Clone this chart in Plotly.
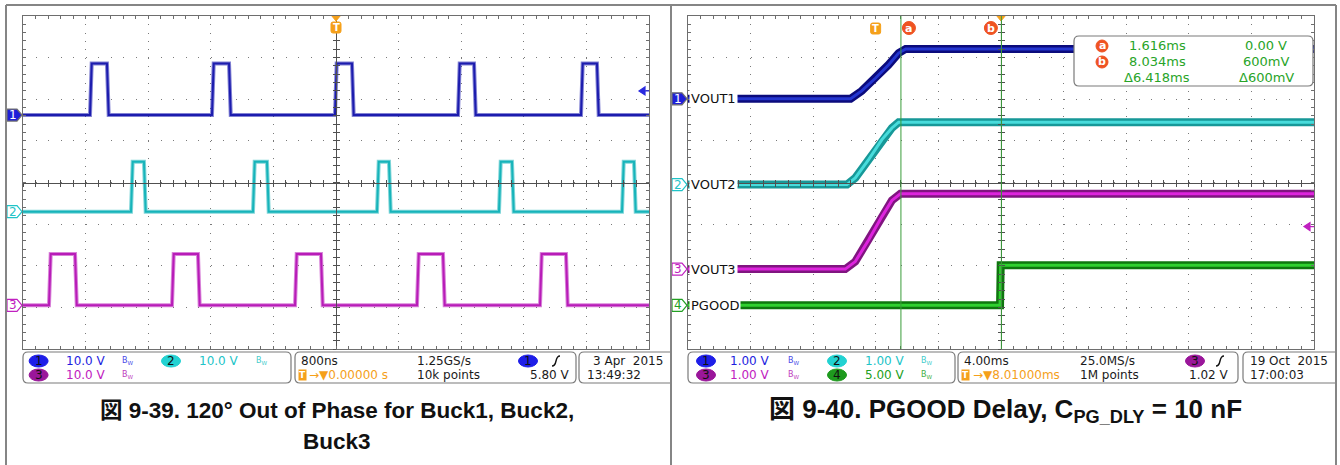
import plotly.graph_objects as go

# =====================================================
# Figure 9-39 : switch nodes of the three bucks (800 ns/div, 10 V/div)
# =====================================================

CH1_RISE_NS = [-3144, -1585, -13, 1559, 3131]
CH1_FALL_NS = [-2927, -1367, 204, 1764, 3335]
CH2_RISE_NS = [-2620, -1061, 524, 2083, 3655]
CH2_FALL_NS = [-2454, -882, 677, 2249, 3808]
CH3_RISE_NS = [-3668, -2096, -524, 1035, 2607]
CH3_FALL_NS = [-3335, -1764, -192, 1367, 2939]
PULSE_HIGH_V = [12.4, 12.0, 12.3]
TRIG1_LEVEL_V = 5.80

# =====================================================
# Figure 9-40 : start-up and PGOOD delay (4 ms/div)
# =====================================================

VOUT1_T_MS = [-1.60, -0.89, 0.00, 0.83, 1.47, 1.92]
VOUT1_V = [0.00, 0.19, 0.50, 0.82, 1.10, 1.20]
VOUT2_T_MS = [-1.83, -1.30, -0.45, 0.40, 1.04, 1.47]
VOUT2_V = [0.00, 0.16, 0.60, 1.08, 1.36, 1.50]
VOUT3_T_MS = [-1.94, -1.30, -0.45, 0.40, 1.04, 1.58]
VOUT3_V = [0.00, 0.18, 0.70, 1.26, 1.65, 1.81]
PGOOD_T_MS = [7.95, 7.99]
PGOOD_V = [0.00, 4.80]
CURSOR_MS = [1.616, 8.034]
CURSOR_MV = [0, 600]
TRIG2_LEVEL_V = 1.02
TRIG2_DELAY_MS = 8.01

# =====================================================
# Screen setup
# =====================================================

W, H = 1340, 465
SCOPE_FONT = "DejaVu Sans"
CAPTION_FONT = "Liberation Sans, Noto Sans CJK JP"

L1, R1 = 23, 649
L2, R2 = 688, 1314
TOP, BOT = 16, 349

P1_RANGE = [-4000, 4000]
P1_DIV = 800
P2_RANGE = [TRIG2_DELAY_MS - 20, TRIG2_DELAY_MS + 20]
P2_DIV = 4

P1_POS = [1.62, -0.70, -2.95]
P1_VDIV = 10.0
P2_POS = [2.01, -0.05, -2.08, -2.95]
P2_VDIV = [1.0, 1.0, 1.0, 5.0]

GRID = "#7a7a7a"
EDGE = "#6e6e6e"
CROSS = "#505050"
ORANGE = "#f5a01a"
CURSOR_RED = "#ef5322"
CURSOR_GREEN = "#3a9c3a"

BLUE = "#1c1cae"
CYAN = "#17b4ba"
MAGENTA = "#b81cb8"


def px(x):
    return x / W


def py(y):
    return 1 - y / H


def div_to_py(pos):
    # vertical screen division -> paper y
    return py(TOP + (4 - pos) * (BOT - TOP) / 8)


def P(x, y):
    return f"{px(x):.5f},{py(y):.5f}"


fig = go.Figure()


# =====================================================
# Axes
# =====================================================

def base_x(dom, rng, div, anchor):
    return dict(
        domain=[px(dom[0]), px(dom[1])], range=rng, tick0=rng[0], dtick=div,
        anchor=anchor, showgrid=True, gridcolor=GRID, gridwidth=1,
        griddash="1px,7.33px", ticks="inside", ticklen=3, tickcolor=EDGE,
        minor=dict(tick0=rng[0], dtick=div / 5, ticks="inside", ticklen=3,
                   tickcolor=EDGE, showgrid=False),
        showline=True, linecolor=EDGE, linewidth=1, mirror="allticks",
        showticklabels=False, zeroline=False, fixedrange=True
    )


def base_y(anchor):
    return dict(
        domain=[py(BOT), py(TOP)], range=[-4, 4], tick0=-4, dtick=1,
        anchor=anchor, showgrid=True, gridcolor=GRID, gridwidth=1,
        griddash="1px,11.52px", ticks="inside", ticklen=3, tickcolor=EDGE,
        minor=dict(tick0=-4, dtick=0.2, ticks="inside", ticklen=3,
                   tickcolor=EDGE, showgrid=False),
        showline=True, linecolor=EDGE, linewidth=1, mirror="allticks",
        showticklabels=False, zeroline=False, fixedrange=True
    )


def cross_axis(over, rng, step, pos, ticks):
    return dict(
        overlaying=over, anchor="free", position=pos, range=rng,
        tick0=rng[0], dtick=step, ticks=ticks, ticklen=3, tickcolor=CROSS,
        showline=True, linecolor=CROSS, linewidth=1, showgrid=False,
        zeroline=False, showticklabels=False, fixedrange=True
    )


y_mid = (py(TOP) + py(BOT)) / 2
x_mid1 = (px(L1) + px(R1)) / 2
x_mid2 = (px(L2) + px(R2)) / 2

fig.update_layout(
    xaxis=base_x((L1, R1), P1_RANGE, P1_DIV, "y"),
    yaxis=base_y("x"),
    xaxis2=base_x((L2, R2), P2_RANGE, P2_DIV, "y2"),
    yaxis2=base_y("x2"),
    xaxis3=cross_axis("x", P1_RANGE, P1_DIV / 5, y_mid, "inside"),
    xaxis4=cross_axis("x", P1_RANGE, P1_DIV / 5, y_mid, "outside"),
    yaxis3=cross_axis("y", [-4, 4], 0.2, x_mid1, "inside"),
    yaxis4=cross_axis("y", [-4, 4], 0.2, x_mid1, "outside"),
    xaxis5=cross_axis("x2", P2_RANGE, P2_DIV / 5, y_mid, "inside"),
    xaxis6=cross_axis("x2", P2_RANGE, P2_DIV / 5, y_mid, "outside"),
    yaxis5=cross_axis("y2", [-4, 4], 0.2, x_mid2, "inside"),
    yaxis6=cross_axis("y2", [-4, 4], 0.2, x_mid2, "outside"),
)

# the crosshair axes are only drawn when a trace uses them
for xa, ya in [("x3", "y"), ("x4", "y"), ("x", "y3"), ("x", "y4"),
               ("x5", "y2"), ("x6", "y2"), ("x2", "y5"), ("x2", "y6")]:
    fig.add_trace(go.Scatter(x=[], y=[], xaxis=xa, yaxis=ya,
                             hoverinfo="skip", showlegend=False))


# =====================================================
# Waveforms
# =====================================================

def add_wave(t, y, color, glow, width, glow_width, xa, ya):
    fig.add_trace(go.Scatter(x=t, y=y, mode="lines", xaxis=xa, yaxis=ya,
                             line=dict(color=glow, width=glow_width),
                             hoverinfo="skip", showlegend=False))
    fig.add_trace(go.Scatter(x=t, y=y, mode="lines", xaxis=xa, yaxis=ya,
                             line=dict(color=color, width=width),
                             hoverinfo="skip", showlegend=False))


def pulse_train(rises, falls, high, pos):
    edge = 22
    t, v = [P1_RANGE[0]], [0.0]
    for r, f in zip(rises, falls):
        t += [r, r + edge, f, f + edge]
        v += [0.0, high, high, 0.0]
    t.append(P1_RANGE[1])
    v.append(0.0)
    return t, [pos + val / P1_VDIV for val in v]


p1_sets = [
    (CH1_RISE_NS, CH1_FALL_NS, BLUE, "rgba(28,28,174,0.55)"),
    (CH2_RISE_NS, CH2_FALL_NS, CYAN, "rgba(23,180,186,0.55)"),
    (CH3_RISE_NS, CH3_FALL_NS, MAGENTA, "rgba(184,28,184,0.55)"),
]
for i, (rises, falls, col, glow) in enumerate(p1_sets):
    t, y = pulse_train(rises, falls, PULSE_HIGH_V[i], P1_POS[i])
    add_wave(t, y, col, glow, 2.0, 4, "x", "y")


def ramp(ts, vs, pos, vdiv):
    t = [P2_RANGE[0]] + ts + [P2_RANGE[1]]
    v = [vs[0]] + vs + [vs[-1]]
    return t, [pos + val / vdiv for val in v]


p2_sets = [
    (PGOOD_T_MS, PGOOD_V, "#2fd02f", "#0e760e"),
    (VOUT3_T_MS, VOUT3_V, "#de24de", "#801580"),
    (VOUT2_T_MS, VOUT2_V, "#48dcdc", "#179898"),
    (VOUT1_T_MS, VOUT1_V, "#2436d0", "#0b0b7c"),
]
for k, (ts, vs, inner, outer) in enumerate(p2_sets):
    ch = 3 - k
    t, y = ramp(ts, vs, P2_POS[ch], P2_VDIV[ch])
    add_wave(t, y, inner, outer, 3, 8, "x2", "y2")


# =====================================================
# Screen markers
# =====================================================

def flag(xpx, pos, num, color, filled):
    yy = div_to_py(pos)
    fig.add_shape(type="path", xref="paper", xsizemode="pixel", xanchor=px(xpx),
                  yref="paper", ysizemode="pixel", yanchor=yy,
                  path="M0,6 L10,6 L15,0 L10,-6 L0,-6 Z",
                  fillcolor=color if filled else "white",
                  line=dict(color="#707070" if filled else color, width=1.2))
    fig.add_annotation(xref="paper", x=px(xpx + 6), yref="paper", y=yy,
                       text=num, showarrow=False, xanchor="center",
                       yanchor="middle",
                       font=dict(family=SCOPE_FONT, size=12,
                                 color="white" if filled else color))


flag(7, P1_POS[0], "1", "#1f1fd8", True)
flag(7, P1_POS[1], "2", "#1fc4c8", False)
flag(7, P1_POS[2], "3", "#c020c0", False)
flag(672, P2_POS[0], "1", "#1f1fd8", True)
flag(672, P2_POS[1], "2", "#1fc4c8", False)
flag(672, P2_POS[2], "3", "#c020c0", False)
flag(672, P2_POS[3], "4", "#22a022", False)

for ch, name in enumerate(["VOUT1", "VOUT2", "VOUT3", "PGOOD"]):
    fig.add_annotation(xref="paper", x=px(689), yref="paper",
                       y=div_to_py(P2_POS[ch]), text=name, showarrow=False,
                       xanchor="left", yanchor="middle", bgcolor="white",
                       borderpad=1,
                       font=dict(family=SCOPE_FONT, size=13, color="#111111"))


def rr_pix(x0, y0, x1, y1, r):
    return (f"M{x0 + r},{y0} L{x1 - r},{y0} Q{x1},{y0} {x1},{y0 + r} "
            f"L{x1},{y1 - r} Q{x1},{y1} {x1 - r},{y1} L{x0 + r},{y1} "
            f"Q{x0},{y1} {x0},{y1 - r} L{x0},{y0 + r} Q{x0},{y0} {x0 + r},{y0} Z")


def trig_marker(xa, ya, tx, ytop, tri_x=None):
    fig.add_shape(type="path", xref=xa, xsizemode="pixel", xanchor=tx,
                  yref=ya, ysizemode="pixel", yanchor=4,
                  path=rr_pix(-5, -ytop - 11, 5, -ytop, 2),
                  fillcolor=ORANGE, line=dict(color=ORANGE, width=1))
    fig.add_annotation(xref=xa, x=tx, yref=ya, y=4, yshift=-ytop - 5.5,
                       text="<b>T</b>", showarrow=False,
                       font=dict(family=SCOPE_FONT, size=10, color="white"))
    if tri_x is not None:
        fig.add_shape(type="path", xref=xa, xsizemode="pixel", xanchor=tri_x,
                      yref=ya, ysizemode="pixel", yanchor=4,
                      path="M-5,1 L5,1 L0,-5 Z", fillcolor=ORANGE,
                      line=dict(color=ORANGE, width=1))


trig_marker("x", "y", 0, 6, tri_x=0)
trig_marker("x2", "y2", 0, 7, tri_x=TRIG2_DELAY_MS)


def level_arrow(xa, ya, ypos, color):
    fig.add_shape(type="path", xref=xa, xsizemode="pixel", xanchor=1,
                  yref=ya, ysizemode="pixel", yanchor=ypos,
                  path="M-10,0 L-4,4 L-4,-4 Z M-4,0 L0,0",
                  fillcolor=color, line=dict(color=color, width=1.2))


level_arrow("x domain", "y", P1_POS[0] + TRIG1_LEVEL_V / P1_VDIV, "#2a2ae0")
level_arrow("x2 domain", "y2", P2_POS[2] + TRIG2_LEVEL_V / P2_VDIV[2], "#c020c0")

# cursors
for c in CURSOR_MS:
    fig.add_shape(type="line", xref="x2", x0=c, x1=c, yref="y2 domain",
                  y0=0, y1=1, line=dict(color=CURSOR_GREEN, width=1))

for c, name, dx in [(CURSOR_MS[0], "a", 8), (CURSOR_MS[1], "b", -10.5)]:
    fig.add_shape(type="circle", xref="x2", xsizemode="pixel", xanchor=c,
                  x0=dx - 6.5, x1=dx + 6.5, yref="y2", ysizemode="pixel",
                  yanchor=4, y0=-5.5, y1=-18.5, fillcolor=CURSOR_RED,
                  line=dict(color=CURSOR_RED, width=1))
    fig.add_annotation(xref="x2", x=c, xshift=dx, yref="y2", y=4, yshift=-12,
                       text=f"<b>{name}</b>", showarrow=False,
                       font=dict(family=SCOPE_FONT, size=11, color="white"))


def rrect(x0, y0, x1, y1, r=5, open_right=False):
    if open_right:
        return (f"M{P(x1, y0)} L{P(x0 + r, y0)} Q{P(x0, y0)} {P(x0, y0 + r)} "
                f"L{P(x0, y1 - r)} Q{P(x0, y1)} {P(x0 + r, y1)} L{P(x1, y1)}")
    return (f"M{P(x0 + r, y0)} L{P(x1 - r, y0)} Q{P(x1, y0)} {P(x1, y0 + r)} "
            f"L{P(x1, y1 - r)} Q{P(x1, y1)} {P(x1 - r, y1)} L{P(x0 + r, y1)} "
            f"Q{P(x0, y1)} {P(x0, y1 - r)} L{P(x0, y0 + r)} "
            f"Q{P(x0, y0)} {P(x0 + r, y0)} Z")


def box(x0, y0, x1, y1, open_right=False, fill="white"):
    fig.add_shape(type="path", xref="paper", yref="paper",
                  path=rrect(x0, y0, x1, y1, open_right=open_right),
                  fillcolor=fill if not open_right else None,
                  line=dict(color="#7a7a7a", width=1.2))


def text(x, y, s, color="#1a1a1a", size=12, anchor="left", **kw):
    fig.add_annotation(xref="paper", yref="paper", x=px(x), y=py(y), text=s,
                       showarrow=False, xanchor=anchor, yanchor="middle",
                       font=dict(family=SCOPE_FONT, size=size, color=color), **kw)


def badge(cx, cy, num, fill):
    fig.add_shape(type="circle", xref="paper", yref="paper",
                  x0=px(cx - 9.5), x1=px(cx + 9.5), y0=py(cy + 6), y1=py(cy - 6),
                  fillcolor=fill, line=dict(color=fill, width=1))
    text(cx, cy, num, color="#111111", size=12, anchor="center")


def slope(cx, cy):
    fig.add_shape(type="path", xref="paper", yref="paper",
                  path=(f"M{P(cx - 4, cy + 5)} Q{P(cx - 1, cy + 5)} {P(cx, cy)} "
                        f"Q{P(cx + 1, cy - 5)} {P(cx + 4, cy - 5)}"),
                  line=dict(color="#111111", width=1.4))


def fmt_mv(mv):
    return f"{mv / 1000:.2f} V" if mv == 0 else f"{mv}mV"


# readout box
box(1074, 36, 1313, 86, fill="white")
for row, (c, mv, name) in enumerate(zip(CURSOR_MS, CURSOR_MV, ["a", "b"])):
    yy = 46 + 16 * row
    fig.add_shape(type="circle", xref="paper", yref="paper",
                  x0=px(1096), x1=px(1108), y0=py(yy + 6), y1=py(yy - 6),
                  fillcolor=CURSOR_RED, line=dict(color=CURSOR_RED, width=1))
    text(1102, yy, f"<b>{name}</b>", color="white", size=11, anchor="center")
    text(1157, yy, f"{c:.3f}ms", color="#28a428", size=13, anchor="center")
    text(1266, yy, fmt_mv(mv), color="#28a428", size=13, anchor="center")
text(1157, 78, f"Δ{CURSOR_MS[1] - CURSOR_MS[0]:.3f}ms", color="#28a428",
     size=13, anchor="center")
text(1266, 78, f"Δ{CURSOR_MV[1] - CURSOR_MV[0]}mV", color="#28a428",
     size=13, anchor="center")


# =====================================================
# Bottom status bars
# =====================================================

R1Y, R2Y = 361, 375
BW = "B<sub>W</sub>"

# left screen
box(23, 352, 291, 383)
badge(38.6, R1Y, "1", "#1e1ee8")
text(64, R1Y, "10.0 V", color="#1e1ee0")
text(128, R1Y, BW, color="#4a4ae8", size=8, anchor="center")
badge(171, R1Y, "2", "#22d2d2")
text(197, R1Y, "10.0 V", color="#22c4c8")
text(262, R1Y, BW, color="#44cccc", size=8, anchor="center")
badge(38.6, R2Y, "3", "#9a169a")
text(64, R2Y, "10.0 V", color="#c020c0")
text(128, R2Y, BW, color="#c040c0", size=8, anchor="center")

box(295, 352, 576, 383)
text(299, R1Y, "800ns")
text(415, R1Y, "1.25GS/s")
badge(528, R1Y, "1", "#1e1ee8")
slope(556, R1Y)
text(302.5, R2Y, "<b>T</b>", color="white", size=9, anchor="center",
     bgcolor=ORANGE, borderpad=0)
text(307, R2Y, "→▼0.00000 s", color=ORANGE)
text(415, R2Y, "10k points")
text(572, R2Y, f"{TRIG1_LEVEL_V:.2f} V", anchor="right")

box(579, 352, 671, 383, open_right=True)
text(591, R1Y, "3 Apr  2015")
text(585, R2Y, "13:49:32")

# right screen
box(688, 352, 955, 383)
badge(706, R1Y, "1", "#1e1ee8")
text(728, R1Y, "1.00 V", color="#1e1ee0")
text(794, R1Y, BW, color="#4a4ae8", size=8, anchor="center")
badge(837, R1Y, "2", "#22d2d2")
text(863, R1Y, "1.00 V", color="#22c4c8")
text(927, R1Y, BW, color="#44cccc", size=8, anchor="center")
badge(706, R2Y, "3", "#9a169a")
text(728, R2Y, "1.00 V", color="#c020c0")
text(794, R2Y, BW, color="#c040c0", size=8, anchor="center")
badge(837, R2Y, "4", "#1e9a1e")
text(863, R2Y, "5.00 V", color="#22a022")
text(927, R2Y, BW, color="#44b044", size=8, anchor="center")

box(958, 352, 1238, 383)
text(962, R1Y, "4.00ms")
text(1078, R1Y, "25.0MS/s")
badge(1195, R1Y, "3", "#9a169a")
slope(1220, R1Y)
text(966, R2Y, "<b>T</b>", color="white", size=9, anchor="center",
     bgcolor=ORANGE, borderpad=0)
text(971, R2Y, f"→▼{TRIG2_DELAY_MS:.5f}ms", color=ORANGE)
text(1078, R2Y, "1M points")
text(1231, R2Y, f"{TRIG2_LEVEL_V:.2f} V", anchor="right")

box(1243, 352, 1336, 383, open_right=True)
text(1248, R1Y, "19 Oct  2015")
text(1248, R2Y, "17:00:03")


# =====================================================
# Captions and frame
# =====================================================

def caption(x, y, s, size):
    fig.add_annotation(xref="paper", yref="paper", x=px(x), y=py(y), text=s,
                       showarrow=False, xanchor="center", yanchor="middle",
                       font=dict(family=CAPTION_FONT, size=size, color="#111111"))


caption(337, 410, "<b>図 9-39. 120° Out of Phase for Buck1, Buck2,</b>", 22.5)
caption(337, 441, "<b>Buck3</b>", 22.5)
caption(1005, 410, "<b>図 9-40. PGOOD Delay, C<sub>PG_DLY</sub> = 10 nF</b>", 26)

for x0, y0, x1, y1 in [(6, 5, 1336, 5), (6, 5, 6, 465),
                       (671, 5, 671, 465), (1336, 5, 1336, 465)]:
    fig.add_shape(type="line", xref="paper", yref="paper",
                  x0=px(x0), y0=py(y0), x1=px(x1), y1=py(y1),
                  line=dict(color="#858585", width=2))

fig.update_layout(
    width=W,
    height=H,
    margin=dict(l=0, r=0, t=0, b=0),
    paper_bgcolor="white",
    plot_bgcolor="white",
    showlegend=False,
    font=dict(family=SCOPE_FONT)
)

fig.write_html(
    "out.html",
    config={"displayModeBar": False},
    post_script="document.body.style.margin='0px';"
                "document.body.style.overflow='hidden';"
)
